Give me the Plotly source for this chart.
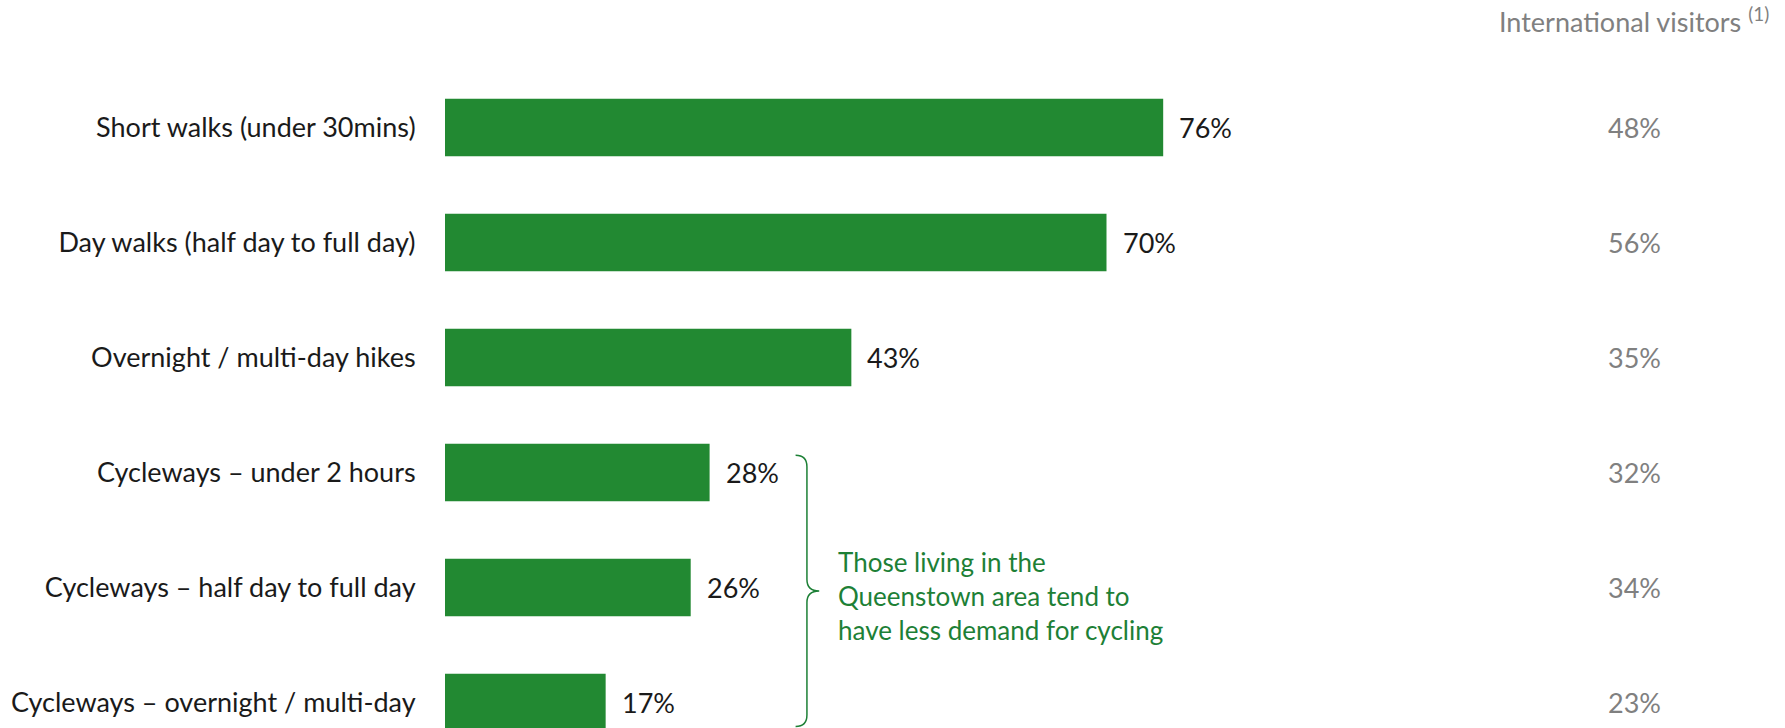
import plotly.graph_objects as go

categories = [
    "Short walks (under 30mins)",
    "Day walks (half day to full day)",
    "Overnight / multi-day hikes",
    "Cycleways \u2013 under 2 hours",
    "Cycleways \u2013 half day to full day",
    "Cycleways \u2013 overnight / multi-day",
]
residents = [76, 70, 43, 28, 26, 17]
international = [48, 56, 35, 32, 34, 23]
header_text = "International visitors <sup>(1)</sup>"
note_text = "Those living in the<br>Queenstown area tend to<br>have less demand for cycling"

FONT = "Lato"
GREEN = "#228932"
NOTE_GREEN = "#1d8036"
DARK = "#1a1a1a"
GRAY = "#808080"
FS = 27

idx = list(range(len(categories)))

fig = go.Figure()
fig.add_trace(go.Bar(
    x=residents, y=idx, orientation="h",
    marker=dict(color=GREEN, line=dict(width=0)),
    width=0.5, hoverinfo="skip",
))

annotations = []
for i, v in zip(idx, residents):
    annotations.append(dict(
        x=v, y=i, xref="x", yref="y", text=f"{v}%", showarrow=False,
        xanchor="left", yanchor="middle", xshift=14,
        font=dict(family=FONT, size=FS, color=DARK),
    ))
INTL_X = 125.9
for i, v in zip(idx, international):
    annotations.append(dict(
        x=INTL_X, y=i, xref="x", yref="y", text=f"{v}%", showarrow=False,
        xanchor="center", yanchor="middle",
        font=dict(family=FONT, size=FS, color=GRAY),
    ))
annotations.append(dict(
    x=0.9896, y=0.972, xref="paper", yref="paper", text=header_text,
    showarrow=False, xanchor="right", yanchor="middle",
    font=dict(family=FONT, size=27, color=GRAY),
))

# brace spanning the three cycling rows
top = idx[3] - 0.15
bot = idx[5] + 0.21
mid = (top + bot) / 2
x0, x1, x2 = 37.1, 38.3, 39.6
r = 0.1
path = (f"M {x0},{top} Q {x1},{top} {x1},{top + r} L {x1},{mid - r} "
        f"Q {x1},{mid} {x2},{mid} Q {x1},{mid} {x1},{mid + r} "
        f"L {x1},{bot - r} Q {x1},{bot} {x0},{bot}")
shapes = [dict(type="path", path=path, xref="x", yref="y",
               line=dict(color=NOTE_GREEN, width=1.5))]
annotations.append(dict(
    x=41.4, y=mid + 0.04, xref="x", yref="y", text=note_text, showarrow=False,
    xanchor="left", yanchor="middle", align="left",
    font=dict(family=FONT, size=26, color=NOTE_GREEN),
))

fig.update_layout(
    width=1785, height=728,
    margin=dict(l=445, r=0, t=0, b=0),
    paper_bgcolor="white", plot_bgcolor="white",
    showlegend=False,
    annotations=annotations, shapes=shapes,
    xaxis=dict(range=[0, 141.8], visible=False, fixedrange=True),
    yaxis=dict(
        range=[5.222, -1.109], tickmode="array", tickvals=idx, ticktext=categories,
        showgrid=False, zeroline=False, showline=False,
        ticks="outside", ticklen=23, tickcolor="rgba(0,0,0,0)",
        tickfont=dict(family=FONT, size=FS, color=DARK), automargin=False,
    ),
)

fig.write_html("out.html", config={"displayModeBar": False})
